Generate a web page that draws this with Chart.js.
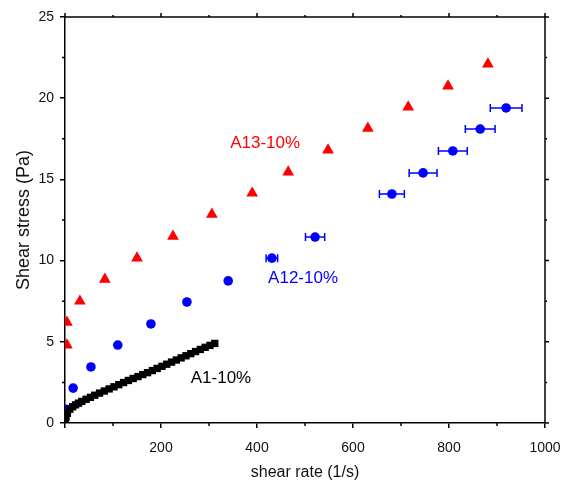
<!DOCTYPE html>
<html>
<head>
<meta charset="utf-8">
<script src="https://cdn.jsdelivr.net/npm/chart.js@4.4.1/dist/chart.umd.min.js"></script>
<style>
  body { margin: 0; background: #fff; }
  canvas { display: block; }
</style>
</head>
<body>
<canvas id="flowChart" width="564" height="490"></canvas>
<script>
// A13-10% (red triangles)
const a13X = [4, 4, 31, 83, 150, 225, 306, 390, 465, 548, 631, 715, 798, 881];
const a13Y = [4.8, 6.2, 7.5, 8.85, 10.15, 11.5, 12.85, 14.15, 15.45, 16.8, 18.15, 19.45, 20.75, 22.1];

// A12-10% (blue circles) with horizontal error on shear rate
const a12X = [2, 17, 54, 110, 179, 254, 340, 431, 521, 681, 746, 808, 865, 919];
const a12Y = [0.85, 2.15, 3.45, 4.8, 6.1, 7.45, 8.75, 10.15, 11.45, 14.1, 15.4, 16.75, 18.1, 19.4];
const a12Err = [0, 0, 0, 0, 0, 0, 0, 12, 20, 26, 29, 30, 31, 33];

// A1-10% (black squares)
const a1X = [0.5, 2, 5, 10, 16, 22, 28, 35, 44, 53, 62, 72, 82, 92, 102, 112, 122, 132, 142, 152,
             162, 172, 182, 192, 202, 212, 222, 232, 242, 252, 262, 272, 282, 292, 302, 312];
const a1Y = [0.15, 0.35, 0.6, 0.85, 1.0, 1.12, 1.22, 1.33, 1.46, 1.58, 1.71, 1.84, 1.97, 2.1, 2.23, 2.36, 2.49, 2.62, 2.74, 2.86,
             2.98, 3.1, 3.23, 3.36, 3.49, 3.62, 3.75, 3.88, 4.01, 4.14, 4.27, 4.4, 4.53, 4.66, 4.78, 4.9];

// text labels placed next to each series (data coordinates)
const seriesLabels = [
    { text: 'A13-10%', x: 417, y: 17.2, color: '#ff0000' },
    { text: 'A12-10%', x: 496, y: 8.93, color: '#0000ff' },
    { text: 'A1-10%', x: 325, y: 2.77, color: '#000000' }
];

const FONT = '"Liberation Sans", Arial, sans-serif';

function toPoints(xs, ys) {
    return xs.map((x, i) => ({ x: x, y: ys[i] }));
}

// frame, minor ticks, error bars and series labels
const decorPlugin = {
    id: 'decor',
    beforeDatasetsDraw(chart) {
        const ctx = chart.ctx;
        const xs = chart.scales.x, ys = chart.scales.y;
        ctx.save();
        ctx.strokeStyle = '#0000ff';
        ctx.lineWidth = 1.5;
        a12Err.forEach((err, i) => {
            if (!err) return;
            const xl = xs.getPixelForValue(a12X[i] - err);
            const xr = xs.getPixelForValue(a12X[i] + err);
            const py = ys.getPixelForValue(a12Y[i]);
            ctx.beginPath();
            ctx.moveTo(xl, py); ctx.lineTo(xr, py);
            ctx.moveTo(xl, py - 4); ctx.lineTo(xl, py + 4);
            ctx.moveTo(xr, py - 4); ctx.lineTo(xr, py + 4);
            ctx.stroke();
        });
        ctx.restore();
    },
    afterDraw(chart) {
        const ctx = chart.ctx;
        const area = chart.chartArea;
        const xs = chart.scales.x, ys = chart.scales.y;
        ctx.save();
        ctx.strokeStyle = '#000';
        ctx.lineWidth = 1.5;
        // top and right border
        ctx.beginPath();
        ctx.moveTo(area.left, area.top); ctx.lineTo(area.right, area.top);
        ctx.lineTo(area.right, area.bottom);
        ctx.stroke();

        ctx.beginPath();
        for (let v = 0; v <= 1000; v += 100) {
            const px = xs.getPixelForValue(v);
            const len = v % 200 === 0 ? 5 : 3;
            if (v % 200 !== 0) { ctx.moveTo(px, area.bottom); ctx.lineTo(px, area.bottom + 3); }
            ctx.moveTo(px, area.top); ctx.lineTo(px, area.top - len + 1);
        }
        for (let v = 0; v <= 25; v += 2.5) {
            const py = ys.getPixelForValue(v);
            const len = v % 5 === 0 ? 5 : 3;
            if (v % 5 !== 0) { ctx.moveTo(area.left, py); ctx.lineTo(area.left - 3, py); }
            ctx.moveTo(area.right, py); ctx.lineTo(area.right + len - 1, py);
        }
        ctx.stroke();

        ctx.font = '17px ' + FONT;
        ctx.textAlign = 'center';
        ctx.textBaseline = 'middle';
        seriesLabels.forEach(l => {
            ctx.fillStyle = l.color;
            ctx.fillText(l.text, xs.getPixelForValue(l.x), ys.getPixelForValue(l.y));
        });
        ctx.restore();
    }
};

const majorColor = (step) => (c) => (c.tick && Math.abs(c.tick.value % step) < 1e-6) ? '#000' : 'rgba(0,0,0,0)';

new Chart(document.getElementById('flowChart'), {
    type: 'scatter',
    data: {
        datasets: [
            {
                label: 'A1-10%',
                data: toPoints(a1X, a1Y),
                pointStyle: 'rect',
                pointRadius: 5.2,
                backgroundColor: '#000',
                borderColor: '#000',
                borderWidth: 0,
                clip: 0
            },
            {
                label: 'A12-10%',
                data: toPoints(a12X, a12Y),
                pointStyle: 'circle',
                pointRadius: 4.8,
                backgroundColor: '#0000ff',
                borderColor: '#0000ff',
                borderWidth: 0,
                clip: 0
            },
            {
                label: 'A13-10%',
                data: toPoints(a13X, a13Y),
                pointStyle: 'triangle',
                pointRadius: 6.8,
                backgroundColor: '#ff0000',
                borderColor: '#ff0000',
                borderWidth: 0,
                clip: 0
            }
        ]
    },
    options: {
        responsive: false,
        animation: false,
        layout: { padding: { top: 17, right: 19, left: 0, bottom: 0 } },
        plugins: {
            legend: { display: false },
            tooltip: { enabled: false }
        },
        scales: {
            x: {
                type: 'linear',
                min: 0,
                max: 1000,
                afterFit: (s) => { s.height = 67; s.paddingLeft = 0; s.paddingRight = 0; },
                ticks: {
                    stepSize: 100,
                    autoSkip: false,
                    maxRotation: 0,
                    padding: 12,
                    color: '#111',
                    font: { family: FONT, size: 14 },
                    callback: (v) => (v % 200 === 0 && v !== 0) ? v : ''
                },
                grid: { drawOnChartArea: false, tickLength: 5, lineWidth: 1.5, color: majorColor(200) },
                border: { color: '#000', width: 1.5 },
                title: {
                    display: true,
                    text: 'shear rate (1/s)',
                    color: '#111',
                    font: { family: FONT, size: 16 },
                    padding: { top: 0, bottom: 8 }
                }
            },
            y: {
                type: 'linear',
                min: 0,
                max: 25,
                afterFit: (s) => { s.width = 65; s.paddingTop = 0; s.paddingBottom = 0; },
                ticks: {
                    stepSize: 2.5,
                    autoSkip: false,
                    padding: 6,
                    color: '#111',
                    font: { family: FONT, size: 14 },
                    callback: (v) => (v % 5 === 0) ? v : ''
                },
                grid: { drawOnChartArea: false, tickLength: 5, lineWidth: 1.5, color: majorColor(5) },
                border: { color: '#000', width: 1.5 },
                title: {
                    display: true,
                    text: 'Shear stress (Pa)',
                    color: '#111',
                    font: { family: FONT, size: 18 },
                    padding: { top: 13, bottom: 0 }
                }
            }
        }
    },
    plugins: [decorPlugin]
});
</script>
</body>
</html>
